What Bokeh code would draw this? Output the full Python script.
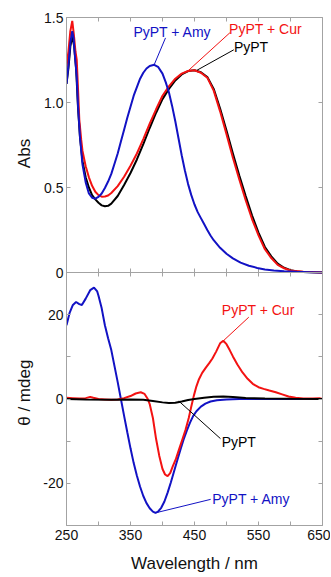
import math
from bokeh.plotting import figure
from bokeh.layouts import row
from bokeh.models import Range1d, LinearAxis, FixedTicker, Span
from bokeh.core.properties import value
from bokeh.embed import file_html
from bokeh.resources import INLINE

# ---------------- data ----------------
# Absorption (top panel)
abs_pypt_wl = [250, 253, 256, 259, 262, 265, 268, 271, 275, 280, 285, 290, 295, 300, 305, 310,
               315, 320, 330, 340, 350, 360, 370, 380, 390, 400, 410, 420, 430, 440, 450, 460,
               470, 480, 490, 500, 510, 520, 530, 540, 550, 560, 570, 580, 590, 600, 610, 620, 635, 650]
abs_pypt = [1.11, 1.20, 1.33, 1.39, 1.33, 1.20, 0.97, 0.80, 0.655, 0.56, 0.50, 0.455, 0.43, 0.41, 0.395, 0.39,
            0.392, 0.405, 0.45, 0.515, 0.585, 0.665, 0.755, 0.85, 0.94, 1.02, 1.08, 1.13, 1.165, 1.185, 1.19, 1.178,
            1.15, 1.08, 0.965, 0.835, 0.70, 0.57, 0.45, 0.335, 0.235, 0.15, 0.095, 0.052, 0.028, 0.014, 0.006, 0.003, 0.001, 0.0]

abs_cur_wl = [250, 253, 256, 259, 261.5, 264, 266, 268, 270, 273, 275, 280, 285, 290, 295, 300, 305, 310,
              315, 320, 330, 340, 350, 360, 370, 380, 390, 400, 410, 420, 430, 440, 450, 460,
              470, 480, 490, 500, 510, 520, 530, 540, 550, 560, 570, 580, 590, 600, 620, 650]
abs_cur = [1.21, 1.30, 1.42, 1.48, 1.40, 1.30, 1.25, 1.08, 0.90, 0.78, 0.715, 0.625, 0.56, 0.51, 0.475, 0.455, 0.446, 0.447,
           0.453, 0.468, 0.508, 0.563, 0.628, 0.70, 0.785, 0.875, 0.96, 1.04, 1.095, 1.14, 1.17, 1.185, 1.19, 1.175,
           1.146, 1.07, 0.948, 0.814, 0.675, 0.547, 0.425, 0.313, 0.218, 0.137, 0.085, 0.045, 0.025, 0.012, 0.004, 0.0]

abs_amy_wl = [250, 253, 256, 259, 261, 263, 266, 268, 271, 275, 280, 285, 290, 295, 300, 305, 310, 315,
              320, 325, 330, 335, 340, 345, 350, 355, 360, 365, 370, 375, 380, 387, 393, 400, 405,
              410, 415, 420, 425, 430, 435, 440, 445, 450, 455, 460, 465, 470, 475, 480, 490, 500,
              510, 522, 535, 548, 560, 574, 590, 610, 630, 650]
abs_amy = [1.11, 1.22, 1.35, 1.42, 1.38, 1.28, 1.15, 0.98, 0.80, 0.635, 0.53, 0.465, 0.44, 0.434, 0.445, 0.465, 0.497, 0.535,
           0.58, 0.64, 0.70, 0.77, 0.84, 0.91, 0.975, 1.04, 1.09, 1.14, 1.175, 1.20, 1.215, 1.222, 1.21, 1.17, 1.12,
           1.06, 0.98, 0.89, 0.79, 0.69, 0.60, 0.52, 0.455, 0.40, 0.355, 0.32, 0.285, 0.25, 0.218, 0.19, 0.145, 0.11,
           0.083, 0.058, 0.04, 0.027, 0.018, 0.012, 0.007, 0.004, 0.002, 0.0]

# CD (bottom panel)
cd_amy_wl = [250, 255, 260, 265, 270, 274, 280, 287, 293, 298, 300, 305, 310, 315, 320, 325, 330, 335, 340,
             345, 350, 355, 360, 365, 370, 375, 380, 385, 389, 393, 398, 403, 408, 413, 418, 423, 428,
             433, 438, 443, 448, 453, 460, 467, 475, 485, 500, 520, 650]
cd_amy = [17.5, 20.5, 22.3, 23.0, 22.5, 22.3, 23.8, 25.8, 26.4, 25.5, 24.5, 21.5, 17.5, 14.4, 11.6, 7.8, 4.0, 0.0, -4.0,
          -7.9, -11.7, -15.2, -18.2, -20.8, -23.0, -24.7, -25.9, -26.7, -27.0, -26.7, -25.8, -24.3, -22.2, -19.8, -17.2, -14.6, -12.0,
          -9.6, -7.5, -5.6, -4.0, -2.9, -1.8, -1.1, -0.6, -0.3, -0.1, 0.0, 0.0]

cd_cur_wl = [250, 260, 270, 280, 287, 292, 300, 310, 320, 330, 340, 350, 358, 366, 372, 377, 380, 385, 390,
             395, 400, 404, 408, 412, 416, 421, 426, 431, 436, 441, 445, 449, 453, 457, 462, 468, 473,
             478, 484, 490, 495, 500, 505, 510, 517, 525, 533, 541, 550, 558, 567, 577, 587, 597, 608,
             620, 635, 645, 650]
cd_cur = [0.3, 0.2, 0.1, 0.2, 0.5, 0.3, 0.0, -0.1, -0.2, -0.1, 0.2, 0.7, 1.3, 1.6, 1.2, 0.0, -1.2, -4.5, -9.5,
          -13.5, -16.6, -17.9, -18.3, -17.6, -16.0, -14.2, -11.9, -9.6, -7.3, -4.5, -1.8, 0.8, 3.0, 4.7, 6.2, 7.5, 8.5,
          9.6, 11.3, 13.2, 13.8, 13.0, 11.6, 10.1, 8.2, 6.3, 4.8, 3.6, 2.8, 2.4, 2.0, 1.6, 1.1, 0.6, 0.3,
          0.1, 0.1, 0.2, 0.0]

cd_pypt_wl = [250, 280, 320, 350, 370, 385, 400, 410, 420, 430, 440, 450, 465, 480, 495, 510, 530, 560, 600, 650]
cd_pypt = [0.0, -0.1, -0.15, -0.1, -0.2, -0.5, -0.8, -0.95, -0.9, -0.6, -0.25, 0.0, 0.3, 0.55, 0.6, 0.45, 0.25, 0.1, 0.05, 0.0]

# axis ranges, ticks and titles
wl_range = (250, 650)
abs_range = (0, 1.5)
cd_range = (-30, 30)
x_major = [250, 350, 450, 550, 650]
x_minor = [300, 400, 500, 600]
abs_major = [0, 0.5, 1.0, 1.5]
abs_labels = ["0", "0.5", "1.0", "1.5"]
cd_major = [-20, 0, 20]
cd_labels = ["-20", "0", "20"]
cd_minor = [-30, -10, 10, 30]
x_title = "Wavelength / nm"
abs_title = "Abs"
cd_title = "θ / mdeg"

# annotations: label texts, positions and leader lines
top_names = ["PyPT + Amy", "PyPT + Cur", "PyPT"]
top_text_x = [415.6, 560.9, 538.3]
top_text_y = [1.413, 1.435, 1.327]
top_lead_x0 = [404.7, 505.2, 511.4]
top_lead_y0 = [1.38, 1.41, 1.31]
top_lead_x1 = [387, 441, 454]
top_lead_y1 = [1.222, 1.19, 1.19]

bot_names = ["PyPT + Cur", "PyPT", "PyPT + Amy"]
bot_text_x = [549.5, 519.2, 538.8]
bot_text_y = [21.0, -10.2, -23.6]
bot_lead_x0 = [534.8, 490.6, 475.3]
bot_lead_y0 = [19.4, -9.4, -23.8]
bot_lead_x1 = [495.8, 425.5, 389.1]
bot_lead_y1 = [13.9, -0.5, -27.0]

BLUE = "#1212c4"
RED = "#f31212"
BLACK = "#000000"
GRAY = "#a3a3a3"
TXT = "#111111"
FONT = "Liberation Sans"

# ---------------- stacked-panel geometry ----------------
TOP_H = 255      # px height of absorption panel
BOT_H = 253      # px height of CD panel
BORDER_TOP = 17
BORDER_BOTTOM = 51
TITLE_W = 40     # width of the strip that holds the vertical axis titles
k_abs = TOP_H / (abs_range[1] - abs_range[0])   # px per Abs unit
k_cd = BOT_H / (cd_range[1] - cd_range[0])      # px per mdeg
cd_full = Range1d(cd_range[0], cd_range[1] + TOP_H / k_cd)
abs_full = Range1d(abs_range[0] - BOT_H / k_abs, abs_range[1])


def abs_to_cd(a):
    return round(cd_range[1] + (a - abs_range[0]) * k_abs / k_cd, 6)


p = figure(frame_width=256, frame_height=TOP_H + BOT_H,
           x_range=Range1d(*wl_range), y_range=cd_full,
           output_backend="svg", toolbar_location=None,
           x_axis_location=None, y_axis_location=None,
           min_border_left=66 - TITLE_W, min_border_right=8,
           min_border_top=BORDER_TOP, min_border_bottom=0)
p.extra_y_ranges = {"abs": abs_full}
p.grid.visible = False
p.outline_line_color = None
p.background_fill_color = "white"
p.border_fill_color = "white"

y_major = [float(v) for v in cd_major] + [abs_to_cd(a) for a in abs_major]
y_over = {float(v): s for v, s in zip(cd_major, cd_labels)}
y_over.update({abs_to_cd(a): s for a, s in zip(abs_major, abs_labels)})
y_minor = [float(v) for v in cd_minor]


def style_axis(ax, major, minor, overrides=None, show_labels=True):
    ax.ticker = FixedTicker(ticks=major, minor_ticks=minor)
    if overrides:
        ax.major_label_overrides = overrides
    ax.major_tick_in = 4
    ax.major_tick_out = 0
    ax.minor_tick_in = 4
    ax.minor_tick_out = 0
    ax.axis_line_color = GRAY
    ax.major_tick_line_color = GRAY
    ax.minor_tick_line_color = GRAY
    ax.major_label_text_font = FONT
    ax.major_label_text_font_size = "14px"
    ax.axis_label_text_font = FONT
    ax.axis_label_text_font_style = "normal"
    ax.axis_label_text_color = TXT
    ax.axis_label_text_font_size = "17px"
    if show_labels:
        ax.major_label_text_color = TXT
    else:
        ax.major_label_text_color = None
        ax.major_label_standoff = 0


ax = LinearAxis()
style_axis(ax, y_major, y_minor, y_over)
ax.major_label_standoff = 3
p.add_layout(ax, "left")

ax = LinearAxis()
style_axis(ax, y_major, y_minor, show_labels=False)
p.add_layout(ax, "right")

ax = LinearAxis()
style_axis(ax, x_major, x_minor, show_labels=False)
p.add_layout(ax, "above")

ax = LinearAxis(axis_label=x_title)
style_axis(ax, x_major, x_minor)
ax.major_label_standoff = 4
ax.axis_label_standoff = 11
p.add_layout(ax, "below")

# divider between the two panels, with inward ticks on both sides
p.add_layout(Span(location=cd_range[1], dimension="width", line_color=GRAY, line_width=1))
p.scatter(x=x_major + x_minor, y=[cd_range[1]] * (len(x_major) + len(x_minor)),
          marker="dash", angle=math.pi / 2, size=8, line_color=GRAY, line_width=1)

# ---------------- top panel (Abs) ----------------
p.line(abs_pypt_wl, abs_pypt, line_color=BLACK, line_width=2, y_range_name="abs")
p.line(abs_cur_wl, abs_cur, line_color=RED, line_width=2, y_range_name="abs")
p.line(abs_amy_wl, abs_amy, line_color=BLUE, line_width=2, y_range_name="abs")
top_colors = [BLUE, RED, BLACK]
p.segment(x0=top_lead_x0, y0=top_lead_y0, x1=top_lead_x1, y1=top_lead_y1,
          line_color=top_colors, line_width=1, y_range_name="abs")
p.text(x=top_text_x, y=top_text_y, text=top_names, text_color=top_colors, y_range_name="abs",
       text_font=value(FONT), text_font_size="14px", text_align="center", text_baseline="middle")

# ---------------- bottom panel (CD) ----------------
p.line(cd_amy_wl, cd_amy, line_color=BLUE, line_width=2)
p.line(cd_cur_wl, cd_cur, line_color=RED, line_width=2)
p.line(cd_pypt_wl, cd_pypt, line_color=BLACK, line_width=2)
bot_colors = [RED, BLACK, BLUE]
p.segment(x0=bot_lead_x0, y0=bot_lead_y0, x1=bot_lead_x1, y1=bot_lead_y1,
          line_color=bot_colors, line_width=1)
p.text(x=bot_text_x, y=bot_text_y, text=bot_names, text_color=bot_colors,
       text_font=value(FONT), text_font_size="14px", text_align="center", text_baseline="middle")

# ---------------- strip with the vertical axis titles ----------------
t = figure(frame_width=TITLE_W, frame_height=TOP_H + BOT_H,
           x_range=Range1d(0, TITLE_W), y_range=cd_full,
           output_backend="svg", toolbar_location=None,
           x_axis_location=None, y_axis_location=None,
           min_border_left=0, min_border_right=0,
           min_border_top=BORDER_TOP, min_border_bottom=BORDER_BOTTOM)
t.extra_y_ranges = {"abs": abs_full}
t.grid.visible = False
t.outline_line_color = None
t.background_fill_color = "white"
t.border_fill_color = "white"
t.text(x=[24], y=[0.70], text=[abs_title], y_range_name="abs", angle=math.pi / 2,
       text_color=TXT, text_font=value(FONT), text_font_size="17px",
       text_align="center", text_baseline="middle")
t.text(x=[24], y=[1.5], text=[cd_title], angle=math.pi / 2,
       text_color=TXT, text_font=value(FONT), text_font_size="17px",
       text_align="center", text_baseline="middle")

layout = row(t, p, spacing=0)
open("out.html", "w").write(file_html(layout, INLINE))
